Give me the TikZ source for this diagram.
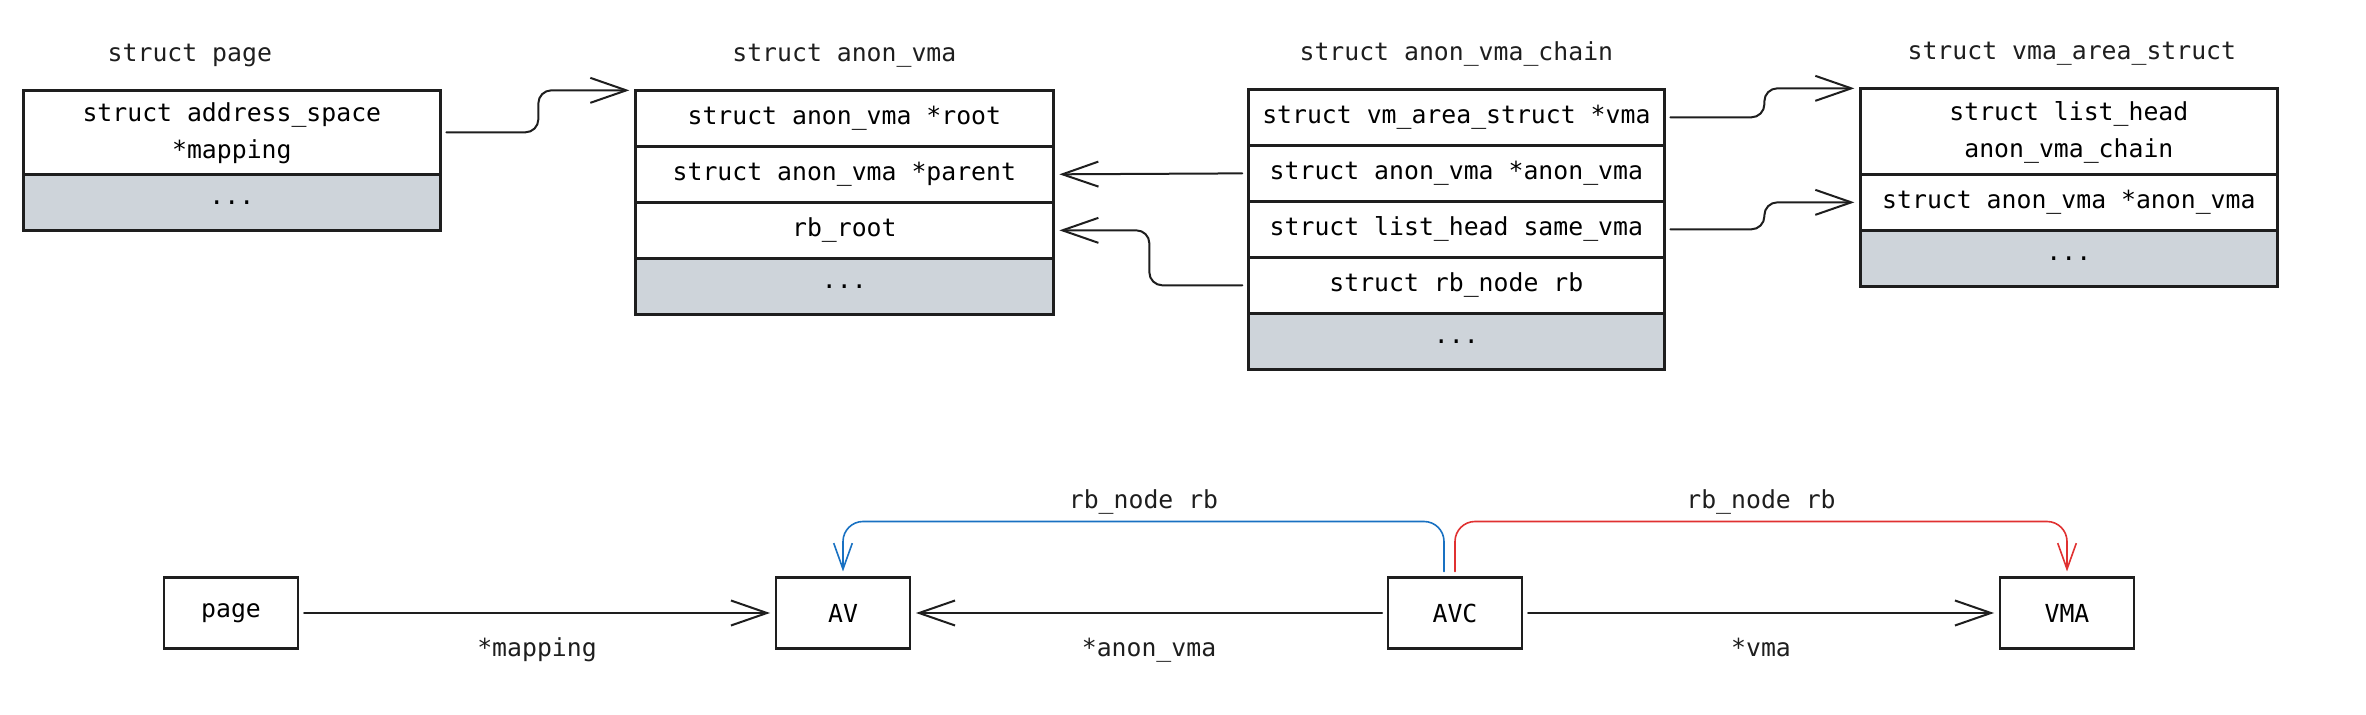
\documentclass[tikz,border=0pt]{standalone}
\usepackage{fontspec}
\usetikzlibrary{arrows.meta, positioning, matrix, calc}
\newfontfamily\codefont{DejaVu Sans Mono}
\definecolor{inkblack}{HTML}{1E1E1E}
\definecolor{fieldgray}{HTML}{CED4DA}
\definecolor{rbblue}{HTML}{1971C2}
\definecolor{rbred}{HTML}{E03131}

\tikzset{
    field/.style={draw=inkblack, line width=1.35pt, minimum height=28pt, inner sep=0pt, outer sep=0pt, anchor=center},
    rest/.style={fill=fieldgray},
    tall/.style={minimum height=42pt},
    taller/.style={minimum height=43pt},
    record/.style={matrix of nodes, inner sep=0pt, outer sep=0pt, row sep=-1.35pt, anchor=north west, ampersand replacement=\&},
    title/.style={inner sep=0pt, text=inkblack},
    box/.style={draw=inkblack, line width=1.35pt, minimum width=67pt, minimum height=35.5pt, outer sep=0pt},
    lbl/.style={inner sep=0pt, text=inkblack, text height=9pt, text depth=2.5pt},
    ptr/.style={draw=inkblack, line width=1pt, line cap=round, rounded corners=6.5pt, -{Straight Barb[length=18pt,width=12.5pt]}, shorten <=3pt, shorten >=3pt},
    rbptr/.style={line width=0.8pt, line cap=round, rounded corners=10pt, -{Straight Barb[length=13pt,width=9.3pt]}, shorten <=3pt, shorten >=3pt}
}

\begin{document}
\begin{tikzpicture}[x=0.5pt, y=-0.5pt, every node/.style={font=\codefont\fontsize{12.4}{18.5}\selectfont}]
    \useasboundingbox (0,0) rectangle (2366,715);
    % structs
    \matrix[record, nodes={field, minimum width=208.5pt}] (pg) at (22,89) {
        |[tall]| \begin{tabular}{@{}c@{}}struct address\_space\\{}*mapping\end{tabular} \\
        |[rest]| ... \\
    };
    \matrix[record, nodes={field, minimum width=209pt}] (av) at (634,89) {
        struct anon\_vma *root \\
        struct anon\_vma *parent \\
        rb\_root \\
        |[rest]| ... \\
    };
    \matrix[record, nodes={field, minimum width=208pt}] (avc) at (1247,88) {
        struct vm\_area\_struct *vma \\
        struct anon\_vma *anon\_vma \\
        struct list\_head same\_vma \\
        struct rb\_node rb \\
        |[rest]| ... \\
    };
    \matrix[record, nodes={field, minimum width=208.5pt}] (vma) at (1859,87) {
        |[taller]| \begin{tabular}{@{}c@{}}struct list\_head\\{}anon\_vma\_chain\end{tabular} \\
        struct anon\_vma *anon\_vma \\
        |[rest]| ... \\
    };
    \node[title, lbl] (pgt) at ([xshift=-21pt, yshift=17pt]pg.north) {struct page};
    \node[title, lbl] (avt) at ([yshift=17pt]av.north) {struct anon\_vma};
    \node[title, lbl] (avct) at ([yshift=17pt]avc.north) {struct anon\_vma\_chain};
    \node[title, lbl] (vmat) at ([xshift=1.5pt, yshift=17pt]vma.north) {struct vma\_area\_struct};
    % pointers
    \draw[ptr] (pg-1-1.east) -- ++(98,0) |- (av-1-1.north west);
    \draw[ptr] (avc-2-1.west) -- (av-2-1.east);
    \draw[ptr] (avc-4-1.west) -- ++(-99,0) |- (av-3-1.east);
    \draw[ptr] (avc-1-1.east) -- ++(100,0) |- (vma-1-1.north west);
    \draw[ptr] (avc-3-1.east) -- ++(100,0) |- (vma-2-1.west);
    % overview
    \node[box] (bpg) at (231,613) {page};
    \node[box, right=239pt of bpg] (bav) {AV};
    \node[box, right=239pt of bav] (bavc) {AVC};
    \node[box, right=239pt of bavc] (bvma) {VMA};
    \draw[ptr] (bpg) -- node[lbl, midway, yshift=-18.5pt] {*mapping} (bav);
    \draw[ptr] (bavc) -- node[lbl, midway, yshift=-18.5pt] {*anon\_vma} (bav);
    \draw[ptr] (bavc) -- node[lbl, midway, yshift=-18.5pt] {*vma} (bvma);
    \draw[rbptr, rbblue] ([xshift=-5.5pt]bavc.north) -- ++(0,-56) -| node[lbl, pos=0.25, yshift=9.5pt] {rb\_node rb} (bav.north);
    \draw[rbptr, rbred] (bavc.north) -- ++(0,-56) -| node[lbl, pos=0.25, yshift=9.5pt] {rb\_node rb} (bvma.north);
\end{tikzpicture}
\end{document}
